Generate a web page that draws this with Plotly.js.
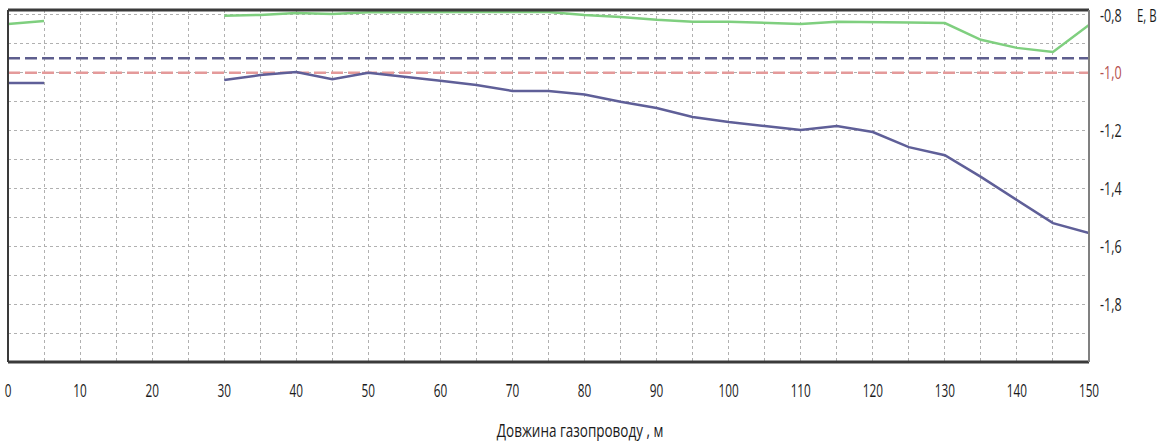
<!DOCTYPE html>
<html>
<head>
<meta charset="utf-8">
<script src="https://cdn.plot.ly/plotly-3.0.1.min.js"></script>
<style>html,body{margin:0;padding:0;background:#fff;}#chart{width:1162px;height:443px;}</style>
</head>
<body>
<div id="chart"></div>
<script>
// distance along the pipeline, m
const distance = [0, 5, 10, 15, 20, 25, 30, 35, 40, 45, 50, 55, 60, 65, 70, 75, 80, 85, 90, 95, 100, 105, 110, 115, 120, 125, 130, 135, 140, 145, 150];
// upper (green) potential, V
const potentialGreen = [-0.831, -0.821, null, null, null, null, -0.803, -0.800, -0.793, -0.797, -0.791, -0.790, -0.790, -0.790, -0.790, -0.790, -0.800, -0.807, -0.817, -0.824, -0.824, -0.828, -0.831, -0.824, -0.824, -0.826, -0.828, -0.886, -0.914, -0.928, -0.835];
// lower (purple) potential, V
const potentialPurple = [-1.035, -1.035, null, null, null, null, -1.025, -1.008, -0.997, -1.022, -1.000, -1.015, -1.028, -1.042, -1.063, -1.063, -1.075, -1.100, -1.122, -1.153, -1.170, -1.184, -1.198, -1.184, -1.205, -1.257, -1.285, -1.360, -1.440, -1.520, -1.554];
// reference levels, V
const levelBlue = -0.95;
const levelRed = -1.0;
const levelSpan = [0, 150];
// tick labels
const xTickVals = [0, 5, 10, 15, 20, 25, 30, 35, 40, 45, 50, 55, 60, 65, 70, 75, 80, 85, 90, 95, 100, 105, 110, 115, 120, 125, 130, 135, 140, 145, 150];
const xTickText = ['0', '', '10', '', '20', '', '30', '', '40', '', '50', '', '60', '', '70', '', '80', '', '90', '', '100', '', '110', '', '120', '', '130', '', '140', '', '150'];
const yTickVals = [-0.8, -0.9, -1.0, -1.1, -1.2, -1.3, -1.4, -1.5, -1.6, -1.7, -1.8, -1.9];
const yTickText = ['-0,8', '', '-1,0', '', '-1,2', '', '-1,4', '', '-1,6', '', '-1,8', ''];
const redTickLabel = '-1,0';
const xTitle = 'Довжина газопроводу , м';
const yTitle = 'E, B';

const FONT = '"Open Sans", "Noto Sans", sans-serif';

const traces = [
  {x: levelSpan, y: [levelRed, levelRed], mode: 'lines', line: {color: '#e49a9a', width: 2.5, dash: '12px,5px'}, hoverinfo: 'skip'},
  {x: levelSpan, y: [levelBlue, levelBlue], mode: 'lines', line: {color: '#5e5e8e', width: 2.5, dash: '12px,5px'}, hoverinfo: 'skip'},
  {x: distance, y: potentialGreen, mode: 'lines', connectgaps: false, line: {color: '#7fcf7f', width: 2.5}},
  {x: distance, y: potentialPurple, mode: 'lines', connectgaps: false, line: {color: '#5f5f98', width: 2.5}}
];

const layout = {
  width: 1162, height: 443,
  margin: {l: 8, r: 73, t: 10, b: 81},
  paper_bgcolor: '#ffffff', plot_bgcolor: '#ffffff',
  showlegend: false,
  font: {family: FONT, color: '#1a1a1a'},
  xaxis: {
    range: [0, 150],
    tickmode: 'array', tickvals: xTickVals, ticktext: xTickText,
    ticks: '', ticklabelstandoff: 15,
    tickfont: {family: FONT, size: 19, color: '#1a1a1a'},
    showgrid: true, gridcolor: '#b0b0b0', griddash: 'dot', gridwidth: 1,
    zeroline: false, showline: false, fixedrange: true
  },
  yaxis: {
    range: [-2.0, -0.783], side: 'right',
    tickmode: 'array', tickvals: yTickVals, ticktext: yTickText,
    ticks: '', ticklabelstandoff: 10,
    tickfont: {family: FONT, size: 19, color: '#1f1f1f'},
    showgrid: true, gridcolor: '#b0b0b0', griddash: 'dot', gridwidth: 1,
    zeroline: false, showline: false, fixedrange: true
  },
  shapes: [
    {type: 'line', xref: 'paper', yref: 'paper', x0: 0, x1: 1, y0: 1, y1: 1, line: {color: '#3a3a3a', width: 3}},
    {type: 'line', xref: 'paper', yref: 'paper', x0: 0, x1: 1, y0: 0, y1: 0, line: {color: '#3a3a3a', width: 3}},
    {type: 'line', xref: 'paper', yref: 'paper', x0: 0, x1: 0, y0: 0, y1: 1, line: {color: '#3a3a3a', width: 2}},
    {type: 'line', xref: 'paper', yref: 'paper', x0: 1, x1: 1, y0: 0, y1: 1, line: {color: '#808080', width: 2}}
  ],
  annotations: [
    {text: xTitle, xref: 'paper', yref: 'paper', x: 0.529, y: 0, yshift: -68, xanchor: 'center', yanchor: 'middle', showarrow: false, font: {family: FONT, size: 18, color: '#1a1a1a'}},
    {text: yTitle, xref: 'paper', yref: 'paper', x: 1, y: 1, xshift: 46, yshift: -5, xanchor: 'left', yanchor: 'middle', showarrow: false, font: {family: FONT, size: 19, color: '#1a1a1a'}}
  ]
};

// narrow the glyphs horizontally, as in the (condensed) reference lettering
function squeeze(elements, s, anchorMode) {
  elements.forEach(function (t) {
    const bb = t.getBBox();
    const anchor = anchorMode || t.getAttribute('text-anchor') || 'start';
    const ax = anchor === 'middle' ? bb.x + bb.width / 2 : anchor === 'end' ? bb.x + bb.width : bb.x;
    const tr = t.getAttribute('transform') || '';
    t.setAttribute('transform', tr + ' translate(' + ax + ',0) scale(' + s + ',1) translate(' + (-ax) + ',0)');
  });
}

Plotly.newPlot('chart', traces, layout, {displayModeBar: false, staticPlot: true}).then(function (gd) {
  gd.querySelectorAll('.ytick text').forEach(function (t) {
    if (t.textContent === redTickLabel) t.style.fill = '#b5504e';
  });
  squeeze(gd.querySelectorAll('.xtick text'), 0.62, 'middle');
  squeeze(gd.querySelectorAll('.ytick text'), 0.66, 'start');
  const ann = gd.querySelectorAll('.annotation-text');
  if (ann[0]) squeeze([ann[0]], 0.75, 'middle');
  if (ann[1]) squeeze([ann[1]], 0.6, 'start');
});
</script>
</body>
</html>
